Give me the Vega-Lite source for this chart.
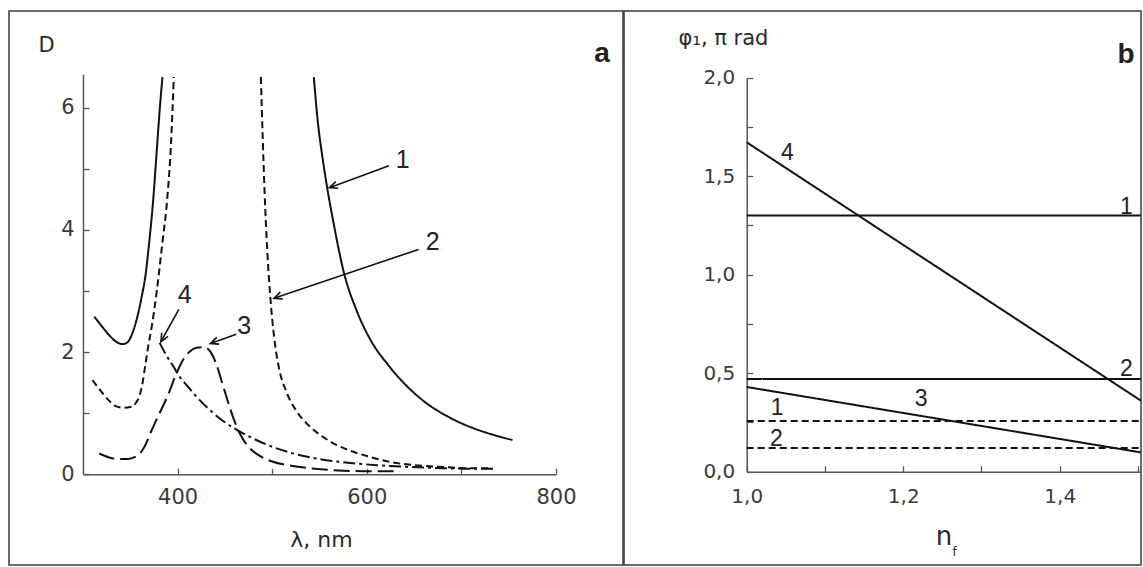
{
  "$schema": "https://vega.github.io/schema/vega-lite/v6.json",
  "background": "white",
  "padding": {"left": 8, "top": 10, "right": 0, "bottom": 0},
  "autosize": {"type": "pad"},
  "spacing": 1,
  "bounds": "flush",
  "config": {
    "view": {"stroke": "#3a3a3a", "strokeWidth": 1.5},
    "axis": {"grid": false, "domainColor": "#555", "domainWidth": 1.5, "tickColor": "#555", "tickWidth": 1.3, "tickSize": -6,
      "labelFont": "DejaVu Sans", "labelColor": "#3a3a3a", "titleFont": "DejaVu Sans", "titleColor": "#2a2a2a",
      "titleFontWeight": "normal", "labelFlush": false, "labelOverlap": false},
    "text": {"font": "Liberation Sans"}
  },
  "datasets": {
    "curvesA": [
      {"curve": "1", "branch": "1L", "x": 312, "y": 2.58}, {"curve": "1", "branch": "1L", "x": 320, "y": 2.42},
      {"curve": "1", "branch": "1L", "x": 328, "y": 2.27}, {"curve": "1", "branch": "1L", "x": 335, "y": 2.17},
      {"curve": "1", "branch": "1L", "x": 342, "y": 2.13}, {"curve": "1", "branch": "1L", "x": 347, "y": 2.16},
      {"curve": "1", "branch": "1L", "x": 352, "y": 2.3}, {"curve": "1", "branch": "1L", "x": 357, "y": 2.55},
      {"curve": "1", "branch": "1L", "x": 362, "y": 2.9}, {"curve": "1", "branch": "1L", "x": 366, "y": 3.25},
      {"curve": "1", "branch": "1L", "x": 370, "y": 3.8}, {"curve": "1", "branch": "1L", "x": 374, "y": 4.45},
      {"curve": "1", "branch": "1L", "x": 378, "y": 5.3}, {"curve": "1", "branch": "1L", "x": 381, "y": 5.95},
      {"curve": "1", "branch": "1L", "x": 384, "y": 6.5},
      {"curve": "1", "branch": "1R", "x": 544, "y": 6.5}, {"curve": "1", "branch": "1R", "x": 548, "y": 5.8},
      {"curve": "1", "branch": "1R", "x": 553, "y": 5.2}, {"curve": "1", "branch": "1R", "x": 558, "y": 4.7},
      {"curve": "1", "branch": "1R", "x": 565, "y": 4.1}, {"curve": "1", "branch": "1R", "x": 575, "y": 3.35},
      {"curve": "1", "branch": "1R", "x": 590, "y": 2.65}, {"curve": "1", "branch": "1R", "x": 605, "y": 2.17},
      {"curve": "1", "branch": "1R", "x": 622, "y": 1.8}, {"curve": "1", "branch": "1R", "x": 640, "y": 1.48},
      {"curve": "1", "branch": "1R", "x": 660, "y": 1.2}, {"curve": "1", "branch": "1R", "x": 685, "y": 0.95},
      {"curve": "1", "branch": "1R", "x": 710, "y": 0.77}, {"curve": "1", "branch": "1R", "x": 735, "y": 0.64},
      {"curve": "1", "branch": "1R", "x": 754, "y": 0.56},
      {"curve": "2", "branch": "2L", "x": 310, "y": 1.54}, {"curve": "2", "branch": "2L", "x": 318, "y": 1.38},
      {"curve": "2", "branch": "2L", "x": 326, "y": 1.23}, {"curve": "2", "branch": "2L", "x": 334, "y": 1.12},
      {"curve": "2", "branch": "2L", "x": 343, "y": 1.09}, {"curve": "2", "branch": "2L", "x": 350, "y": 1.1},
      {"curve": "2", "branch": "2L", "x": 356, "y": 1.17}, {"curve": "2", "branch": "2L", "x": 360, "y": 1.3},
      {"curve": "2", "branch": "2L", "x": 363, "y": 1.5}, {"curve": "2", "branch": "2L", "x": 366, "y": 1.8},
      {"curve": "2", "branch": "2L", "x": 369, "y": 2.1}, {"curve": "2", "branch": "2L", "x": 373, "y": 2.45},
      {"curve": "2", "branch": "2L", "x": 378, "y": 3.0}, {"curve": "2", "branch": "2L", "x": 384, "y": 3.8},
      {"curve": "2", "branch": "2L", "x": 389, "y": 4.5}, {"curve": "2", "branch": "2L", "x": 393, "y": 5.4},
      {"curve": "2", "branch": "2L", "x": 396, "y": 6.5},
      {"curve": "2", "branch": "2R", "x": 488, "y": 6.5}, {"curve": "2", "branch": "2R", "x": 490, "y": 5.5},
      {"curve": "2", "branch": "2R", "x": 492, "y": 4.6}, {"curve": "2", "branch": "2R", "x": 495, "y": 3.6},
      {"curve": "2", "branch": "2R", "x": 498, "y": 2.9}, {"curve": "2", "branch": "2R", "x": 502, "y": 2.25},
      {"curve": "2", "branch": "2R", "x": 507, "y": 1.75}, {"curve": "2", "branch": "2R", "x": 515, "y": 1.35},
      {"curve": "2", "branch": "2R", "x": 525, "y": 1.05}, {"curve": "2", "branch": "2R", "x": 540, "y": 0.78},
      {"curve": "2", "branch": "2R", "x": 560, "y": 0.55}, {"curve": "2", "branch": "2R", "x": 580, "y": 0.4},
      {"curve": "2", "branch": "2R", "x": 600, "y": 0.3}, {"curve": "2", "branch": "2R", "x": 625, "y": 0.2},
      {"curve": "2", "branch": "2R", "x": 650, "y": 0.15}, {"curve": "2", "branch": "2R", "x": 680, "y": 0.12},
      {"curve": "2", "branch": "2R", "x": 710, "y": 0.1}, {"curve": "2", "branch": "2R", "x": 730, "y": 0.1},
      {"curve": "3", "branch": "3", "x": 317, "y": 0.34}, {"curve": "3", "branch": "3", "x": 327, "y": 0.28},
      {"curve": "3", "branch": "3", "x": 337, "y": 0.25}, {"curve": "3", "branch": "3", "x": 347, "y": 0.25},
      {"curve": "3", "branch": "3", "x": 357, "y": 0.3}, {"curve": "3", "branch": "3", "x": 365, "y": 0.45},
      {"curve": "3", "branch": "3", "x": 372, "y": 0.7}, {"curve": "3", "branch": "3", "x": 380, "y": 0.97},
      {"curve": "3", "branch": "3", "x": 390, "y": 1.3}, {"curve": "3", "branch": "3", "x": 399, "y": 1.66},
      {"curve": "3", "branch": "3", "x": 406, "y": 1.88}, {"curve": "3", "branch": "3", "x": 413, "y": 2.01},
      {"curve": "3", "branch": "3", "x": 420, "y": 2.07}, {"curve": "3", "branch": "3", "x": 428, "y": 2.08},
      {"curve": "3", "branch": "3", "x": 435, "y": 2.0}, {"curve": "3", "branch": "3", "x": 441, "y": 1.8},
      {"curve": "3", "branch": "3", "x": 447, "y": 1.5}, {"curve": "3", "branch": "3", "x": 453, "y": 1.2},
      {"curve": "3", "branch": "3", "x": 459, "y": 0.92}, {"curve": "3", "branch": "3", "x": 466, "y": 0.66},
      {"curve": "3", "branch": "3", "x": 475, "y": 0.45}, {"curve": "3", "branch": "3", "x": 487, "y": 0.3},
      {"curve": "3", "branch": "3", "x": 500, "y": 0.21}, {"curve": "3", "branch": "3", "x": 520, "y": 0.14},
      {"curve": "3", "branch": "3", "x": 545, "y": 0.09}, {"curve": "3", "branch": "3", "x": 575, "y": 0.06},
      {"curve": "3", "branch": "3", "x": 605, "y": 0.05}, {"curve": "3", "branch": "3", "x": 635, "y": 0.05},
      {"curve": "4", "branch": "4", "x": 381, "y": 2.15}, {"curve": "4", "branch": "4", "x": 388, "y": 1.95},
      {"curve": "4", "branch": "4", "x": 395, "y": 1.78}, {"curve": "4", "branch": "4", "x": 402, "y": 1.6},
      {"curve": "4", "branch": "4", "x": 410, "y": 1.45}, {"curve": "4", "branch": "4", "x": 420, "y": 1.27},
      {"curve": "4", "branch": "4", "x": 432, "y": 1.08}, {"curve": "4", "branch": "4", "x": 445, "y": 0.91},
      {"curve": "4", "branch": "4", "x": 460, "y": 0.75}, {"curve": "4", "branch": "4", "x": 478, "y": 0.6},
      {"curve": "4", "branch": "4", "x": 500, "y": 0.45}, {"curve": "4", "branch": "4", "x": 525, "y": 0.33},
      {"curve": "4", "branch": "4", "x": 550, "y": 0.25}, {"curve": "4", "branch": "4", "x": 580, "y": 0.19},
      {"curve": "4", "branch": "4", "x": 610, "y": 0.15}, {"curve": "4", "branch": "4", "x": 645, "y": 0.12},
      {"curve": "4", "branch": "4", "x": 680, "y": 0.1}, {"curve": "4", "branch": "4", "x": 715, "y": 0.09},
      {"curve": "4", "branch": "4", "x": 735, "y": 0.09}
    ],
    "labelsA": [
      {"x": 638, "y": 5.14, "t": "1"},
      {"x": 669.6, "y": 3.8, "t": "2"},
      {"x": 470.4, "y": 2.43, "t": "3"},
      {"x": 407.5, "y": 2.94, "t": "4"}
    ],
    "arrowsA": [
      {"id": "1", "x": 623.4, "y": 5.05, "x2": 560.5, "y2": 4.69},
      {"id": "2", "x": 654.8, "y": 3.68, "x2": 501.9, "y2": 2.88},
      {"id": "3", "x": 462.1, "y": 2.29, "x2": 434.7, "y2": 2.14},
      {"id": "4", "x": 401.3, "y": 2.7, "x2": 382.4, "y2": 2.17}
    ],
    "linesB": [
      {"line": "1s", "kind": "solid", "x": 1.0, "y": 1.3}, {"line": "1s", "kind": "solid", "x": 1.5035, "y": 1.3},
      {"line": "2s", "kind": "solid", "x": 1.0, "y": 0.47}, {"line": "2s", "kind": "solid", "x": 1.5035, "y": 0.47},
      {"line": "3", "kind": "solid", "x": 1.0, "y": 0.43}, {"line": "3", "kind": "solid", "x": 1.5035, "y": 0.098},
      {"line": "4", "kind": "solid", "x": 1.0, "y": 1.672}, {"line": "4", "kind": "solid", "x": 1.5035, "y": 0.361},
      {"line": "1d", "kind": "dashed", "x": 1.0, "y": 0.257}, {"line": "1d", "kind": "dashed", "x": 1.5035, "y": 0.257},
      {"line": "2d", "kind": "dashed", "x": 1.0, "y": 0.12}, {"line": "2d", "kind": "dashed", "x": 1.5035, "y": 0.12}
    ],
    "labelsB": [
      {"x": 1.052, "y": 1.62, "t": "4"},
      {"x": 1.485, "y": 1.345, "t": "1"},
      {"x": 1.485, "y": 0.52, "t": "2"},
      {"x": 1.223, "y": 0.367, "t": "3"},
      {"x": 1.039, "y": 0.325, "t": "1"},
      {"x": 1.038, "y": 0.166, "t": "2"}
    ]
  },
  "hconcat": [
    {
      "width": 614,
      "height": 554,
      "title": {"text": "a", "anchor": "end", "frame": "group", "align": "center", "baseline": "middle",
        "dx": -21, "dy": 71, "offset": 0, "fontSize": 28, "fontWeight": "bold", "font": "Liberation Sans", "color": "#222"},
      "layer": [
        {
          "data": {"name": "curvesA"},
          "mark": {"type": "line", "color": "#111", "strokeWidth": 2, "interpolate": "monotone"},
          "encoding": {
            "x": {"field": "x", "type": "quantitative",
              "scale": {"domain": [300, 800], "range": [74, 547], "nice": false, "zero": false},
              "axis": {"values": [400, 500, 600, 700, 800], "labelExpr": "datum.value % 200 == 0 ? format(datum.value, 'd') : ''",
                "offset": -90.7, "labelFontSize": 21, "labelPadding": 18,
                "title": "λ, nm", "titleX": 312, "titleY": 64.7, "titleBaseline": "middle", "titleAlign": "center", "titleFontSize": 22}},
            "y": {"field": "y", "type": "quantitative",
              "scale": {"domain": [0, 6.55], "range": [463.3, 63], "nice": false, "zero": false},
              "axis": {"values": [0, 1, 2, 3, 4, 5, 6], "labelExpr": "datum.value % 2 == 0 ? format(datum.value, 'd') : ''",
                "offset": -74, "labelFontSize": 21, "labelPadding": 15,
                "title": "D", "titleAngle": 0, "titleX": -37, "titleY": 34, "titleBaseline": "middle", "titleAlign": "center", "titleFontSize": 21}},
            "detail": {"field": "branch"},
            "strokeDash": {"field": "curve", "type": "nominal",
              "scale": {"domain": ["1", "2", "3", "4"], "range": [[1, 0], [7, 4], [16, 6], [12, 4, 3, 4]]}, "legend": null}
          }
        },
        {
          "data": {"name": "arrowsA"},
          "mark": {"type": "rule", "color": "#111", "strokeWidth": 1.6},
          "encoding": {
            "x": {"field": "x", "type": "quantitative"},
            "y": {"field": "y", "type": "quantitative"},
            "x2": {"field": "x2"},
            "y2": {"field": "y2"}
          }
        },
        {
          "data": {"name": "arrowsA"},
          "transform": [{"filter": "datum.id != '4'"}],
          "mark": {"type": "point", "shape": "M-0.8,1.8L0,0L0.8,1.8", "filled": false, "stroke": "#111", "strokeWidth": 1.6, "size": 80, "angle": 250, "opacity": 1},
          "encoding": {
            "x": {"field": "x2", "type": "quantitative"},
            "y": {"field": "y2", "type": "quantitative"}
          }
        },
        {
          "data": {"name": "arrowsA"},
          "transform": [{"filter": "datum.id == '4'"}],
          "mark": {"type": "point", "shape": "M-0.8,1.8L0,0L0.8,1.8", "filled": false, "stroke": "#111", "strokeWidth": 1.6, "size": 80, "angle": 209, "opacity": 1},
          "encoding": {
            "x": {"field": "x2", "type": "quantitative"},
            "y": {"field": "y2", "type": "quantitative"}
          }
        },
        {
          "data": {"name": "labelsA"},
          "mark": {"type": "text", "fontSize": 25, "color": "#222", "align": "center", "baseline": "middle"},
          "encoding": {
            "x": {"field": "x", "type": "quantitative"},
            "y": {"field": "y", "type": "quantitative"},
            "text": {"field": "t"}
          }
        }
      ]
    },
    {
      "width": 517,
      "height": 554,
      "title": {"text": "b", "anchor": "end", "frame": "group", "align": "center", "baseline": "middle",
        "dx": -15, "dy": 71.5, "offset": 0, "fontSize": 28, "fontWeight": "bold", "font": "Liberation Sans", "color": "#222"},
      "resolve": {"axis": {"x": "independent"}},
      "layer": [
        {
          "data": {"name": "linesB"},
          "mark": {"type": "line", "color": "#111", "strokeWidth": 2},
          "encoding": {
            "x": {"field": "x", "type": "quantitative",
              "scale": {"domain": [1.0, 1.5038], "range": [122.7, 517], "nice": false, "zero": false},
              "axis": {"orient": "bottom", "values": [1.0, 1.1, 1.2, 1.3, 1.4, 1.5],
                "labelExpr": "round(datum.value * 10) % 2 == 0 ? replace(format(datum.value, '.1f'), '.', ',') : ''",
                "offset": -93.3, "labelFontSize": 20, "labelPadding": 21,
                "title": "n", "titleX": 319.5, "titleY": 64.3, "titleBaseline": "middle", "titleAlign": "center", "titleFontSize": 26}},
            "y": {"field": "y", "type": "quantitative",
              "scale": {"domain": [0, 2], "range": [460.7, 66.7], "nice": false, "zero": false},
              "axis": {"values": [0, 0.25, 0.5, 0.75, 1, 1.25, 1.5, 1.75, 2],
                "labelExpr": "(datum.value * 2) % 1 == 0 ? replace(format(datum.value, '.1f'), '.', ',') : ''",
                "offset": -122.7, "labelFontSize": 20, "labelPadding": 18,
                "title": "φ₁, π rad", "titleAngle": 0, "titleX": -23.7, "titleY": 27, "titleBaseline": "middle", "titleAlign": "center", "titleFontSize": 21}},
            "detail": {"field": "line"},
            "strokeDash": {"field": "kind", "type": "nominal",
              "scale": {"domain": ["solid", "dashed"], "range": [[1, 0], [10, 5]]}, "legend": null}
          }
        },
        {
          "data": {"name": "labelsB"},
          "mark": {"type": "text", "fontSize": 23, "color": "#222", "align": "center", "baseline": "middle"},
          "encoding": {
            "x": {"field": "x", "type": "quantitative",
              "axis": {"orient": "bottom", "offset": -93.3, "labels": false, "ticks": false, "domain": false,
                "title": "f", "titleX": 330, "titleY": 80, "titleBaseline": "middle", "titleAlign": "center", "titleFontSize": 12}},
            "y": {"field": "y", "type": "quantitative"},
            "text": {"field": "t"}
          }
        }
      ]
    }
  ]
}
